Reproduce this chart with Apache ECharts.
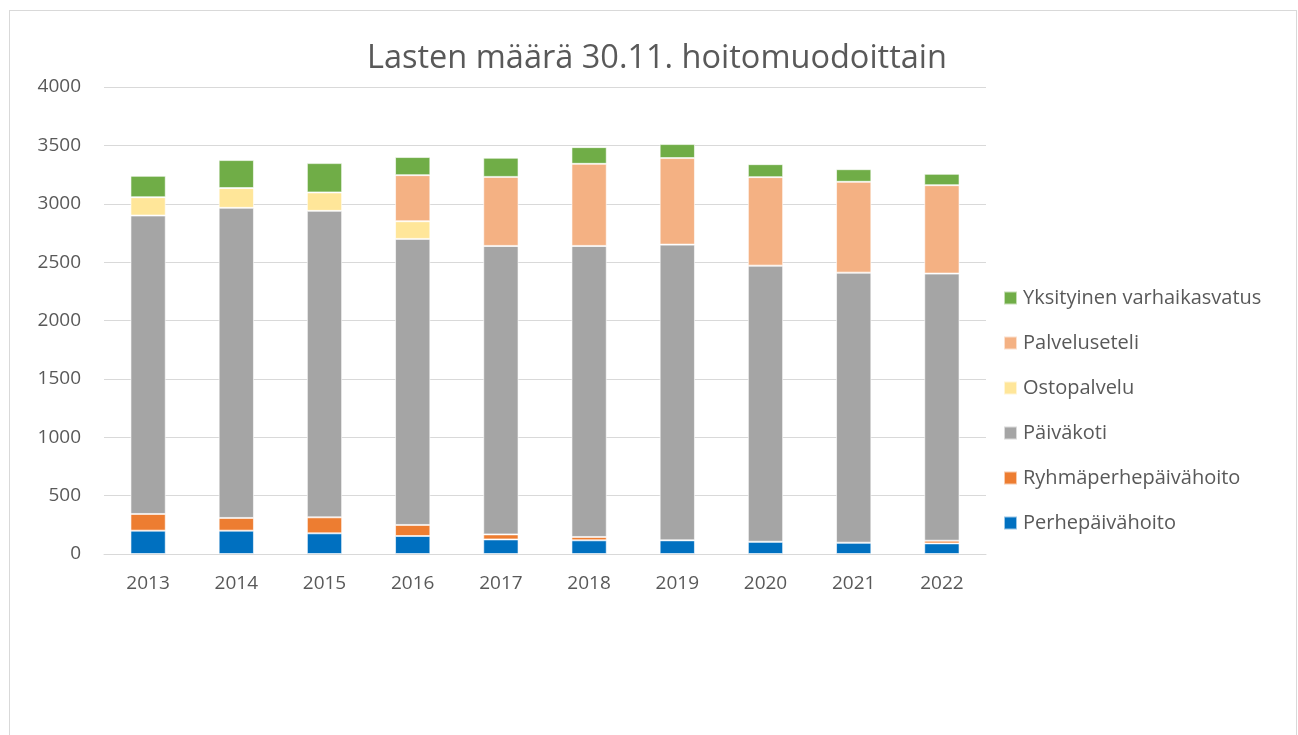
<!DOCTYPE html>
<html>
<head>
<meta charset="utf-8">
<script src="https://cdn.jsdelivr.net/npm/echarts@6/dist/echarts.min.js"></script>
<style>
html,body{margin:0;padding:0;background:#fff;overflow:hidden;}
#frame{position:absolute;left:9px;top:10px;width:1286px;height:740px;border:1px solid #d9d9d9;border-bottom:none;}
#chart{position:absolute;left:0;top:0;width:1298px;height:735px;}
</style>
</head>
<body>
<div id="frame"></div>
<div id="chart"></div>
<script>
var categories = ['2013','2014','2015','2016','2017','2018','2019','2020','2021','2022'];
var perhepaivahoito = [200,200,177,154,125,117,117,105,97,91];
var ryhmaperhepaivahoito = [143,109,137,95,43,29,0,0,0,23];
var paivakoti = [2556,2656,2625,2450,2471,2493,2533,2365,2313,2288];
var ostopalvelu = [157,169,158,151,0,0,0,0,0,0];
var palveluseteli = [0,0,0,395,591,703,741,758,778,757];
var yksityinen = [183,240,251,155,164,143,120,111,108,97];
var yTicks = [0,500,1000,1500,2000,2500,3000,3500,4000];

var font = 'Open Sans, Noto Sans, sans-serif';
var txt = '#595959';
function s(name, data, color){
  return {name:name,type:'bar',stack:'a',data:data,barWidth:'40%',
    itemStyle:{color:color,borderColor:'rgba(255,255,255,0.6)',borderWidth:1}};
}
var chart = echarts.init(document.getElementById('chart'), null, {renderer:'canvas'});
chart.setOption({
  animation:false,
  title:{text:'Lasten määrä 30.11. hoitomuodoittain',left:652,top:37,textAlign:'center',
    textStyle:{fontFamily:font,fontSize:32.5,fontWeight:'normal',color:txt}},
  grid:{left:104,right:312,top:87,bottom:181,containLabel:false},
  legend:{orient:'vertical',left:998,top:283,itemWidth:13,itemHeight:13,itemGap:25,
    icon:'rect',
    textStyle:{fontFamily:font,fontSize:20,color:txt,padding:[0,0,0,1]},
    data:['Yksityinen varhaikasvatus','Palveluseteli','Ostopalvelu','Päiväkoti','Ryhmäperhepäivähoito','Perhepäivähoito']},
  xAxis:{type:'category',data:categories,
    axisLine:{show:true,lineStyle:{color:'#d9d9d9',width:1}},axisTick:{show:false},
    axisLabel:{fontFamily:font,fontSize:19,color:txt,margin:20}},
  yAxis:{type:'value',min:yTicks[0],max:yTicks[yTicks.length-1],interval:500,
    axisLine:{show:false},axisTick:{show:false},
    splitLine:{lineStyle:{color:'#d9d9d9',width:1}},
    axisLabel:{fontFamily:font,fontSize:19,color:txt,margin:23,formatter:function(v){return String(v);}}},
  series:[
    s('Perhepäivähoito',perhepaivahoito,'#0070C0'),
    s('Ryhmäperhepäivähoito',ryhmaperhepaivahoito,'#ED7D31'),
    s('Päiväkoti',paivakoti,'#A5A5A5'),
    s('Ostopalvelu',ostopalvelu,'#FFE699'),
    s('Palveluseteli',palveluseteli,'#F4B183'),
    s('Yksityinen varhaikasvatus',yksityinen,'#70AD47')
  ]
});
</script>
</body>
</html>
